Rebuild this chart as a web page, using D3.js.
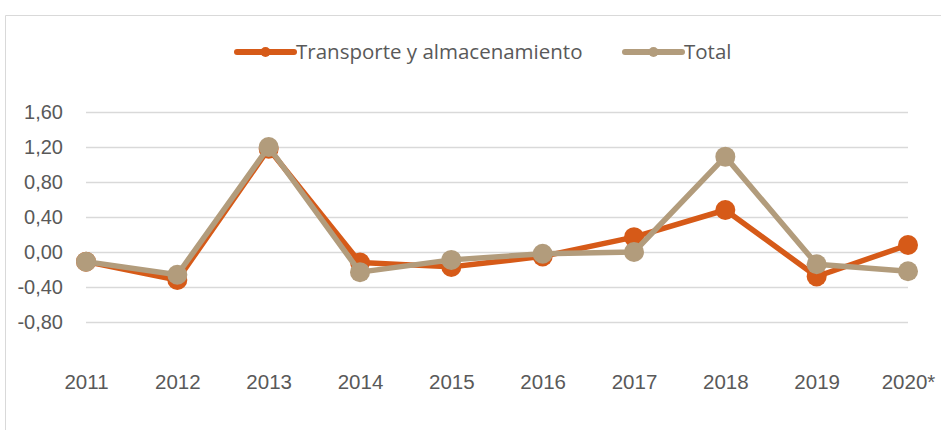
<!DOCTYPE html>
<html>
<head>
<meta charset="utf-8">
<script src="https://cdn.jsdelivr.net/npm/d3@7"></script>
<style>
  html, body { margin: 0; padding: 0; background: #fff; }
  svg { display: block; font-family: "Open Sans", sans-serif; }
</style>
</head>
<body>
<svg id="chart" width="941" height="430"></svg>
<script>
(function () {
  'use strict';

  // ── Data ────────────────────────────────────────────────────────────────
  const years = ['2011', '2012', '2013', '2014', '2015', '2016', '2017', '2018', '2019', '2020*'];
  const transporte = [-0.11, -0.32, 1.18, -0.12, -0.17, -0.05, 0.17, 0.48, -0.28, 0.08];
  const total      = [-0.11, -0.26, 1.20, -0.23, -0.09, -0.02, 0.00, 1.09, -0.14, -0.22];
  const yTicks = [1.6, 1.2, 0.8, 0.4, 0, -0.4, -0.8];

  const series = [
    { name: 'Transporte y almacenamiento', values: transporte, color: '#d65a18' },
    { name: 'Total', values: total, color: '#b29c7c' }
  ];

  const svg = d3.select('#chart');

  // chart frame (Excel chart area border)
  svg.append('path')
    .attr('d', 'M5.5,430 L5.5,15.5 L941,15.5')
    .attr('fill', 'none')
    .attr('stroke', '#d9d9d9')
    .attr('stroke-width', 1);

  const x = d3.scalePoint().domain(years).range([86, 908]);
  const y = d3.scaleLinear().domain([-0.8, 1.6]).range([322, 112]);

  const fmt = v => d3.format('.2f')(v).replace('.', ',').replace('−', '-');

  // Grid lines + y labels
  svg.append('g')
    .attr('transform', 'translate(86,0)')
    .call(d3.axisLeft(y).tickValues(yTicks).tickSize(-822).tickPadding(23).tickFormat(fmt))
    .call(ax => ax.select('.domain').remove())
    .call(ax => ax.selectAll('.tick line').attr('stroke', '#d9d9d9').attr('stroke-width', 1.3))
    .call(ax => ax.selectAll('.tick text')
      .attr('fill', '#595959').attr('font-size', 20));

  // Category labels
  svg.append('g')
    .attr('transform', 'translate(0,374)')
    .call(d3.axisBottom(x).tickSize(0).tickPadding(0))
    .call(ax => ax.select('.domain').remove())
    .call(ax => ax.selectAll('.tick text')
      .attr('fill', '#595959').attr('font-size', 20.5));

  // Lines + markers
  const line = d3.line().x((d, i) => x(years[i])).y(d => y(d));
  series.forEach(s => {
    const g = svg.append('g');
    g.append('path')
      .datum(s.values)
      .attr('d', line)
      .attr('fill', 'none')
      .attr('stroke', s.color)
      .attr('stroke-width', 5.5)
      .attr('stroke-linejoin', 'round');
    g.selectAll('circle')
      .data(s.values)
      .enter()
      .append('circle')
      .attr('cx', (d, i) => x(years[i]))
      .attr('cy', d => y(d))
      .attr('r', 10)
      .attr('fill', s.color);
  });

  // Legend
  const legendItems = [
    { s: series[0], x0: 237 },
    { s: series[1], x0: 625 }
  ];
  legendItems.forEach(({ s, x0 }) => {
    const g = svg.append('g').attr('transform', `translate(${x0},52)`);
    g.append('line')
      .attr('x1', 0).attr('x2', 57)
      .attr('stroke', s.color).attr('stroke-width', 6)
      .attr('stroke-linecap', 'round');
    g.append('circle').attr('cx', 28.5).attr('r', 5).attr('fill', s.color);
    g.append('text')
      .attr('x', 59).attr('dy', '0.35em')
      .attr('fill', '#595959').attr('font-size', 20.5)
      .text(s.name);
  });
})();
</script>
</body>
</html>
